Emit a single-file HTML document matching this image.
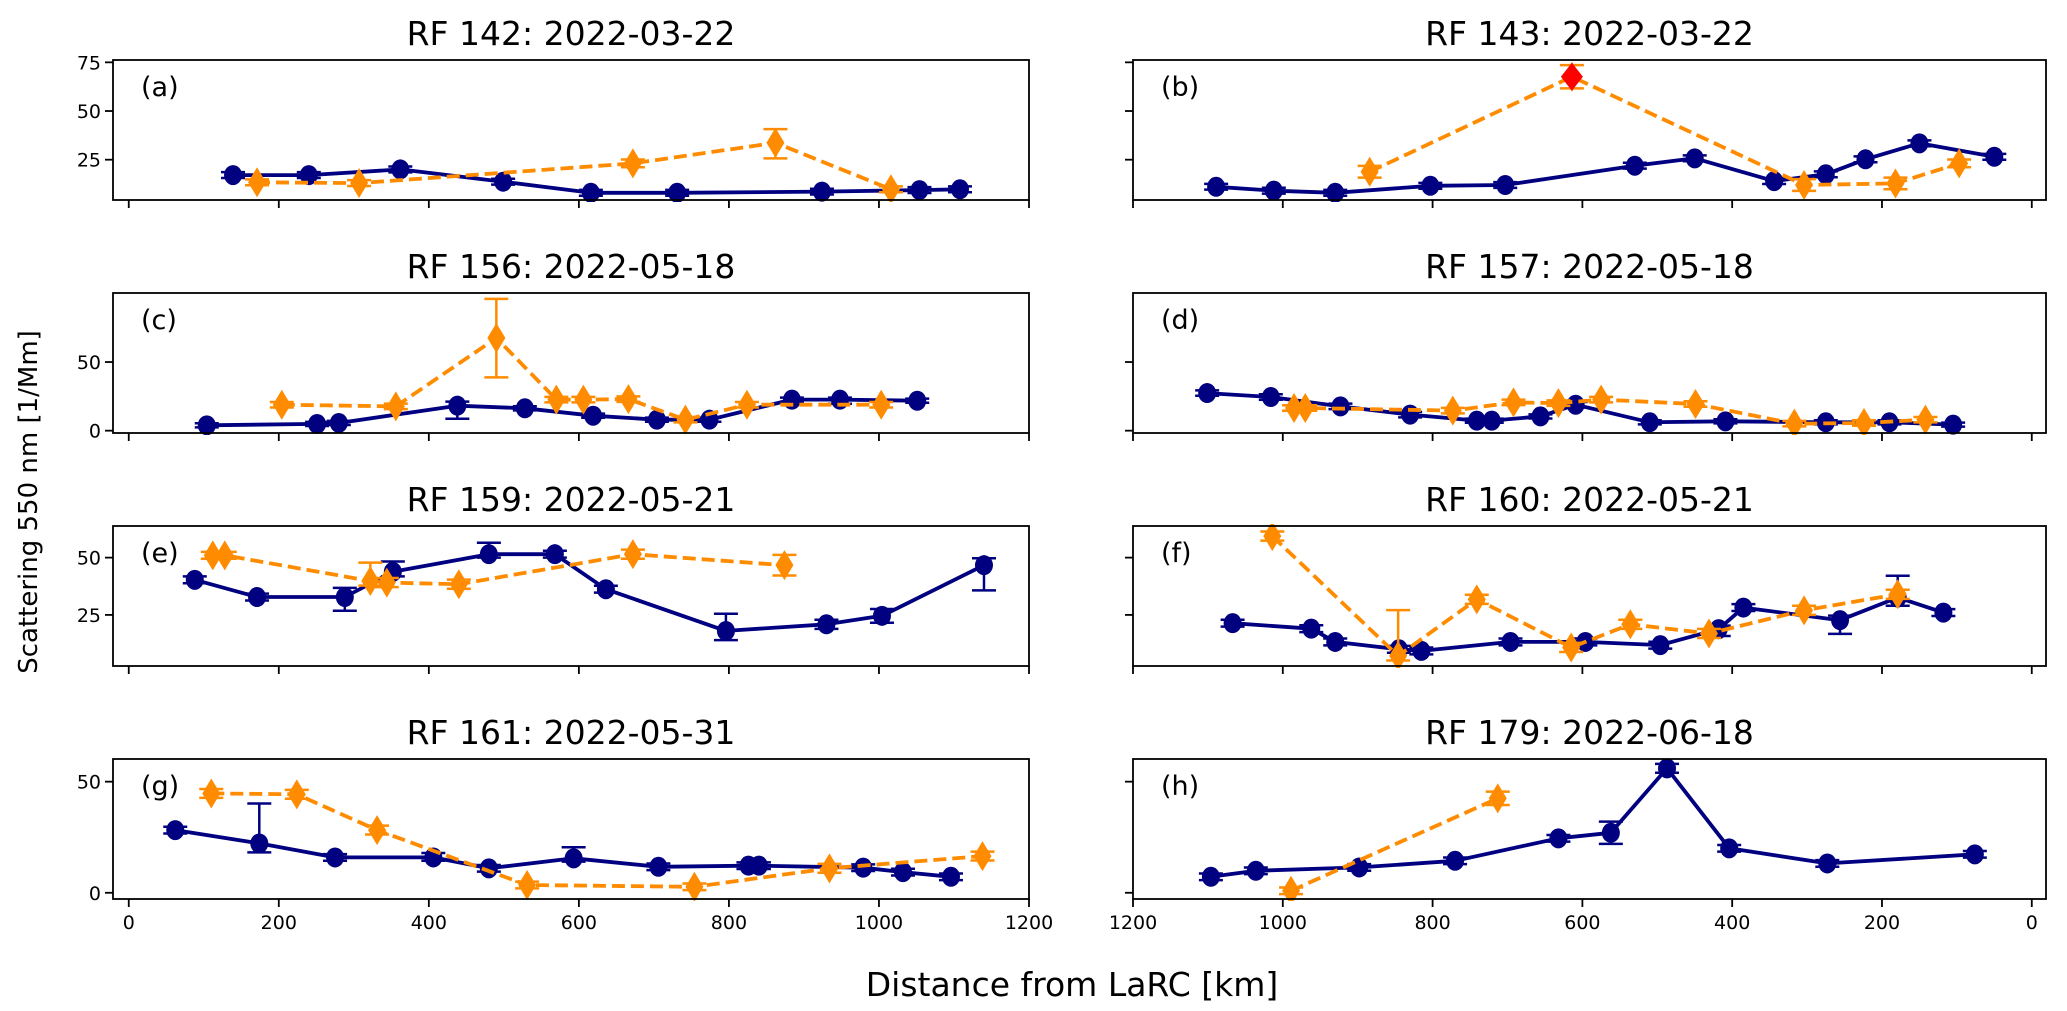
<!DOCTYPE html>
<html><head><meta charset="utf-8"><title>Scattering vs distance</title>
<style>
html,body{margin:0;padding:0;background:#fff;}
svg{display:block;font-family:"DejaVu Sans","Liberation Sans",sans-serif;}
</style></head>
<body>
<svg id="chart" width="2067" height="1011" viewBox="0 0 2067 1011" xmlns="http://www.w3.org/2000/svg">
<rect width="2067" height="1011" fill="#fff"/>
<text x="37" y="502" font-size="26" text-anchor="middle" transform="rotate(-90 37 502)">Scattering 550 nm [1/Mm]</text>
<text x="1072" y="996" font-size="33" text-anchor="middle">Distance from LaRC [km]</text>
</svg>
<script>
// ---- data (km, 1/Mm) ----
const titles = ["RF 142: 2022-03-22","RF 143: 2022-03-22","RF 156: 2022-05-18","RF 157: 2022-05-18","RF 159: 2022-05-21","RF 160: 2022-05-21","RF 161: 2022-05-31","RF 179: 2022-06-18"];
const panelLetters = ["(a)","(b)","(c)","(d)","(e)","(f)","(g)","(h)"];
const xTicks = [0,200,400,600,800,1000,1200];
const yTicksRow1 = [25,50,75];
const yTicksRow2 = [0,50];
const yTicksRow3 = [25,50];
const yTicksRow4 = [0,50];

const aNavyX = [139,240,362,499,616,731,924,1054,1108];
const aNavyY = [17.1,17.1,20,13.7,8,8,8.6,9.4,9.8];
const aNavyLo = [1.5,1.5,1.5,1.5,1.5,1.5,1.5,1.5,1.5];
const aNavyHi = [1.5,1.5,1.5,1.5,1.5,1.5,1.5,1.5,1.5];
const aOrX = [171,307,672,862,1016];
const aOrY = [13.4,13,23.1,33.7,9.8];
const aOrLo = [1.5,1.5,2,8,1.5];
const aOrHi = [1.5,1.5,2,7,1.5];

const bNavyX = [1089,1012,930,803,703,530,450,344,275,222,150,50];
const bNavyY = [11.1,9.1,8,11.6,12,21.9,25.7,14,17.5,25.2,33.4,26.5];
const bNavyLo = [1.5,1.5,1.5,1.5,1.5,1.5,1.5,1.5,1.5,1.5,1.5,1.5];
const bNavyHi = [1.5,1.5,1.5,1.5,1.5,1.5,1.5,1.5,1.5,1.5,1.5,1.5];
const bOrX = [884,614,304,182,97];
const bOrY = [18.8,67.6,12,12.8,23.1];
const bOrLo = [3,6,3,3,2];
const bOrHi = [3,6,3,3,2];
const bRedX = [614];
const bRedY = [67.6];

const cNavyX = [104,251,280,438,528,619,704,774,884,948,1051];
const cNavyY = [3.9,4.9,5.6,18.2,16.3,10.9,8,8,22.6,22.6,21.8];
const cNavyLo = [1.5,1.5,1.5,9.5,1.5,1.5,1.5,1.5,1.5,3,1.5];
const cNavyHi = [1.5,1.5,1.5,3,1.5,1.5,1.5,1.5,1.5,1.5,1.5];
const cOrX = [204,356,490,570,606,666,742,824,1003];
const cOrY = [18.9,17.7,67.5,22.6,22.6,23,8,18.9,18.9];
const cOrLo = [2,2,28.7,2,2,2,2,2,2];
const cOrHi = [2,2,28.5,2,2,2,2,2,2];

const dNavyX = [1101,1016,923,830,741,721,656,609,510,409,275,190,105];
const dNavyY = [27.4,24.5,17.7,11.7,7.3,7.3,10.4,18.9,6.1,6.8,6.1,6.1,4.4];
const dNavyLo = [2,2,2,2,1.5,1.5,1.5,2,1.5,1.5,1.5,1.5,1.5];
const dNavyHi = [2,2,2,2,1.5,1.5,1.5,2,1.5,1.5,1.5,1.5,1.5];
const dOrX = [985,970,773,692,632,575,449,317,224,142];
const dOrY = [16.5,16.5,14.6,20.6,20.1,22.6,19.4,5.1,5.6,8];
const dOrLo = [2,2,2,2,2,2,2,2,2,2];
const dOrHi = [2,2,2,2,2,2,2,2,2,2];

const eNavyX = [88,171,288,352,480,568,636,796,930,1004,1140];
const eNavyY = [40.3,32.8,32.8,43.8,51.5,51.5,36.2,18,20.9,24.6,46.7];
const eNavyLo = [1.5,1.5,6,2,1.5,1.5,1.5,4,2,3,11];
const eNavyHi = [1.5,1.5,4,4.5,5,1.5,1.5,7.5,2,3,3];
const eOrX = [112,128,322,344,440,672,874];
const eOrY = [51,51,39.8,39.1,38.4,51.5,46.7];
const eOrLo = [1.5,1.5,2,2,2,2,4.5];
const eOrHi = [1.5,1.5,8,2,2,2,4.5];

const fNavyX = [1067,962,930,845,815,696,596,496,418,385,256,179,118];
const fNavyY = [21.4,19,13.2,10,9.3,13.2,13.2,11.8,18.8,28.2,22.7,32.6,26];
const fNavyLo = [1.5,1.5,1.5,1.5,1.5,1.5,1.5,1.5,3,1.5,6,3.6,1.5];
const fNavyHi = [1.5,1.5,1.5,1.5,1.5,1.5,1.5,1.5,1.5,1.5,2,9.5,1.5];
const fOrX = [1014,846,741,615,536,431,304,179];
const fOrY = [59.4,7.1,31.8,10.8,20.9,16.9,27,34];
const fOrLo = [2,2,2,2,2,2,2,2];
const fOrHi = [2,20,2,2,2,2,2,2];

const gNavyX = [62,174,275,406,480,593,706,826,840,979,1032,1096];
const gNavyY = [28.2,22.2,15.9,15.9,11,15.5,11.7,12.2,12.2,11.3,9.3,7.2];
const gNavyLo = [1.5,4,1.5,1.5,1.5,1.5,1.5,1.5,1.5,1.5,1.5,1.5];
const gNavyHi = [1.5,18,1.5,2,1.5,5,1.5,1.5,1.5,1.5,1.5,1.5];
const gOrX = [110,224,331,531,754,934,1138];
const gOrY = [44.7,44.3,28.2,3.5,2.7,11,16.5];
const gOrLo = [2,2,2,1.5,1.5,2,2];
const gOrHi = [2,2,2,1.5,1.5,2,2];

const hNavyX = [1096,1036,898,770,632,562,487,404,273,76];
const hNavyY = [7.2,9.9,11.4,14.4,24.5,27,56,20,13.2,17.3];
const hNavyLo = [1.5,1.5,1.5,1.5,1.5,5,2,1.5,1.5,1.5];
const hNavyHi = [1.5,1.5,1.5,1.5,1.5,5,2,1.5,1.5,1.5];
const hOrX = [989,713];
const hOrY = [0.9,42.5];
const hOrLo = [1.5,3];
const hOrHi = [1.5,3];

const panelSeries = [
  {navy:[aNavyX,aNavyY,aNavyLo,aNavyHi], orange:[aOrX,aOrY,aOrLo,aOrHi]},
  {navy:[bNavyX,bNavyY,bNavyLo,bNavyHi], orange:[bOrX,bOrY,bOrLo,bOrHi], red:[bRedX,bRedY]},
  {navy:[cNavyX,cNavyY,cNavyLo,cNavyHi], orange:[cOrX,cOrY,cOrLo,cOrHi]},
  {navy:[dNavyX,dNavyY,dNavyLo,dNavyHi], orange:[dOrX,dOrY,dOrLo,dOrHi]},
  {navy:[eNavyX,eNavyY,eNavyLo,eNavyHi], orange:[eOrX,eOrY,eOrLo,eOrHi]},
  {navy:[fNavyX,fNavyY,fNavyLo,fNavyHi], orange:[fOrX,fOrY,fOrLo,fOrHi]},
  {navy:[gNavyX,gNavyY,gNavyLo,gNavyHi], orange:[gOrX,gOrY,gOrLo,gOrHi]},
  {navy:[hNavyX,hNavyY,hNavyLo,hNavyHi], orange:[hOrX,hOrY,hOrLo,hOrHi]}
];
const rowYTicks = [yTicksRow1,yTicksRow2,yTicksRow3,yTicksRow4];

// ---- geometry ----
const NS = "http://www.w3.org/2000/svg";
const svg = document.getElementById("chart");
const cols = [{x0:113,x1:1029,d0:-21,d1:1200},{x0:1133,x1:2046,d0:1200,d1:-19}];
const rows = [{y0:60,y1:200,v0:4.3,v1:76.2},{y0:293,y1:433,v0:-1.7,v1:100.3},{y0:526,y1:666,v0:2.7,v1:63.8},{y0:759,y1:899,v0:-2.8,v1:60.2}];
const NAVY="#000080", ORANGE="#ff8c00", RED="#ff0000";

function mk(tag, attrs, parent){
  const el=document.createElementNS(NS,tag);
  for(const k in attrs) el.setAttribute(k,attrs[k]);
  (parent||svg).appendChild(el);
  return el;
}
function diamond(cx,cy,w,h){return `M${cx},${cy-h/2} L${cx+w/2},${cy} L${cx},${cy+h/2} L${cx-w/2},${cy} Z`;}

for(let p=0;p<8;p++){
  const col=cols[p%2], row=rows[Math.floor(p/2)];
  const r=Math.floor(p/2);
  const sx=d=>col.x0+(d-col.d0)/(col.d1-col.d0)*(col.x1-col.x0);
  const sy=v=>row.y1-(v-row.v0)/(row.v1-row.v0)*(row.y1-row.y0);
  const g=mk("g",{});
  
  
  const clipId="clip"+p;
  const cp=mk("clipPath",{id:clipId},g);
  mk("rect",{x:col.x0-12,y:row.y0-2,width:col.x1-col.x0+24,height:row.y1-row.y0+4},cp);

  const t=mk("text",{x:(col.x0+col.x1)/2,y:row.y0-15,"font-size":"33","text-anchor":"middle"},g);
  t.textContent=titles[p];
  
  

  const lab=mk("text",{x:col.x0+28,y:row.y0+36,"font-size":"27"},g);
  lab.textContent=panelLetters[p];
  
  

  xTicks.forEach(v=>{
    const x=sx(v);
    mk("line",{x1:x,y1:row.y1,x2:x,y2:row.y1+8,stroke:"#000","stroke-width":1.8},g);
    if(r===3){
      const tl=mk("text",{x:x,y:row.y1+30,"font-size":"19","text-anchor":"middle"},g);
      tl.textContent=v;
      
      
    }
  });
  rowYTicks[r].forEach(v=>{
    const y=sy(v);
    mk("line",{x1:col.x0-8,y1:y,x2:col.x0,y2:y,stroke:"#000","stroke-width":1.8},g);
    if(p%2===0){
      const tl=mk("text",{x:col.x0-12,y:y+7,"font-size":"19","text-anchor":"end"},g);
      tl.textContent=v;
      
      
    }
  });

  const pg=mk("g",{"clip-path":`url(#${clipId})`},g);
  const drawSeries=(s,color,dashed,name)=>{
    const [xs,ys,lo,hi]=s;
    const sg=mk("g",{},pg);
    
    
    const pts=xs.map((x,i)=>sx(x).toFixed(1)+","+sy(ys[i]).toFixed(1)).join(" ");
    const ln=mk("polyline",{points:pts,fill:"none",stroke:color,"stroke-width":3.8,"stroke-linejoin":"round"},sg);
    if(dashed) ln.setAttribute("stroke-dasharray","13,6");
    
    
    xs.forEach((x,i)=>{
      const cx=sx(x), yT=sy(ys[i]+hi[i]), yB=sy(ys[i]-lo[i]);
      mk("line",{x1:cx,y1:yT,x2:cx,y2:yB,stroke:color,"stroke-width":2.5},sg);
      mk("line",{x1:cx-12,y1:yT,x2:cx+12,y2:yT,stroke:color,"stroke-width":2.5},sg);
      mk("line",{x1:cx-12,y1:yB,x2:cx+12,y2:yB,stroke:color,"stroke-width":2.5},sg);
    });
    xs.forEach((x,i)=>{
      let m;
      if(dashed) m=mk("path",{d:diamond(sx(x),sy(ys[i]),18,30),fill:color},sg);
      else m=mk("ellipse",{cx:sx(x),cy:sy(ys[i]),rx:9,ry:10},sg);
      if(!dashed) m.setAttribute("fill",color);
      
      
    });
  };
  drawSeries(panelSeries[p].navy,NAVY,false,"navy-series");
  drawSeries(panelSeries[p].orange,ORANGE,true,"orange-series");
  if(panelSeries[p].red){
    const [rx,ry]=panelSeries[p].red;
    rx.forEach((x,i)=>{
      const m=mk("path",{d:diamond(sx(x),sy(ry[i]),22,28),fill:RED},pg);
      
      
    });
  }
  const frame=mk("rect",{x:col.x0,y:row.y0,width:col.x1-col.x0,height:row.y1-row.y0,fill:"none",stroke:"#000","stroke-width":1.8},g);
  
  
}
</script>
</body></html>
